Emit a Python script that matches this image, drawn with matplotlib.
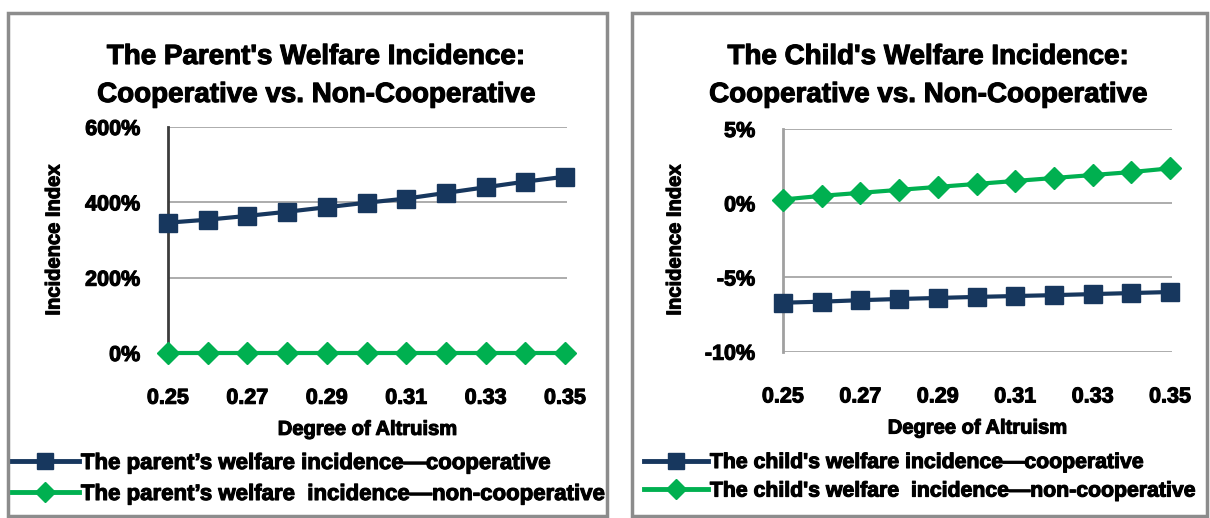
import matplotlib
matplotlib.use("Agg")
import matplotlib.pyplot as plt
import matplotlib.patheffects as pe
from matplotlib.patches import Rectangle
from matplotlib.ticker import FuncFormatter
from matplotlib.lines import Line2D

plt.rcParams['font.family'] = ['Liberation Sans', 'DejaVu Sans']
plt.rcParams['font.weight'] = 'bold'

# degree of altruism on the x axis
altruism = [0.25, 0.26, 0.27, 0.28, 0.29, 0.30, 0.31, 0.32, 0.33, 0.34, 0.35]
xtick_vals = [0.25, 0.27, 0.29, 0.31, 0.33, 0.35]

# incidence index, in percent
parent_coop = [346, 354, 364, 375, 387, 399, 410, 425, 440, 455, 468]
parent_noncoop = [0, 0, 0, 0, 0, 0, 0, 0, 0, 0, 0]
child_coop = [-6.70, -6.63, -6.53, -6.45, -6.38, -6.31, -6.25, -6.19, -6.12, -6.05, -5.98]
child_noncoop = [0.25, 0.50, 0.70, 0.90, 1.10, 1.30, 1.50, 1.70, 1.90, 2.10, 2.35]

parent_titles = ["The Parent's Welfare Incidence:", "Cooperative vs. Non-Cooperative"]
child_titles = ["The Child's Welfare Incidence:", "Cooperative vs. Non-Cooperative"]
parent_labels = ["The parent\u2019s welfare incidence\u2014cooperative",
                 "The parent\u2019s welfare  incidence\u2014non-cooperative"]
child_labels = ["The child's welfare incidence\u2014cooperative",
                "The child's welfare  incidence\u2014non-cooperative"]

NAVY = '#17375e'
GREEN = '#00b050'
GRID = '#a6a6a6'
heavy = [pe.withStroke(linewidth=0.8, foreground='black')]

W, H = 1210, 518
fig = plt.figure(figsize=(W / 100, H / 100), dpi=100)


def fx(px):
    return px / W


def fy(py):
    return 1 - py / H


# chart frames
for x0, x1 in [(8, 607), (632, 1207)]:
    fig.patches.append(Rectangle((fx(x0), fy(516)), fx(x1 - x0), (516 - 13) / H,
                                 transform=fig.transFigure, fill=False,
                                 edgecolor='#8c8c8c', linewidth=2.5))


def draw_panel(rect, coop, noncoop, yticks, ylim, spine_color, titles, labels,
               title_x, ylabel_x, legend_x, legend_size):
    ax = fig.add_axes(rect)
    ax.plot(altruism, coop, color=NAVY, linewidth=3, marker='s', markersize=13,
            clip_on=False, zorder=3)
    ax.plot(altruism, noncoop, color=GREEN, linewidth=3, marker='D', markersize=11,
            clip_on=False, zorder=4)
    ax.set_xlim(0.25, 0.3505)
    ax.set_ylim(*ylim)
    ax.set_yticks(yticks)
    ax.yaxis.set_major_formatter(FuncFormatter(lambda v, p: '%d%%' % v))
    ax.set_xticks(xtick_vals)
    ax.set_xticklabels(['%.2f' % v for v in xtick_vals])
    ax.grid(axis='y', color=GRID, linewidth=1.3)
    ax.set_axisbelow(True)
    for s in ['top', 'right', 'bottom']:
        ax.spines[s].set_visible(False)
    ax.spines['left'].set_color(spine_color)
    ax.spines['left'].set_linewidth(2)
    ax.tick_params(axis='both', length=0, labelsize=15.5)
    ax.tick_params(axis='x', pad=25)
    ax.tick_params(axis='y', pad=20)
    for lbl in ax.get_xticklabels() + ax.get_yticklabels():
        lbl.set_path_effects(heavy)
    ax.set_xlabel('Degree of Altruism', fontsize=14.5, fontweight='bold', labelpad=8,
                  path_effects=heavy)

    fig.text(fx(title_x), fy(57), titles[0], ha='center', va='center',
             fontsize=20, fontweight='bold', path_effects=heavy)
    fig.text(fx(title_x), fy(95), titles[1], ha='center', va='center',
             fontsize=20, fontweight='bold', path_effects=heavy)
    fig.text(fx(ylabel_x), fy(240), 'Incidence Index', rotation=90, ha='center',
             va='center', fontsize=14.5, fontweight='bold', path_effects=heavy)

    handles = [Line2D([], [], color=NAVY, linewidth=3.5, marker='s', markersize=12),
               Line2D([], [], color=GREEN, linewidth=3.5, marker='D', markersize=10)]
    leg = fig.legend(handles, labels, loc='upper left',
                     bbox_to_anchor=(fx(legend_x), fy(453)), frameon=False,
                     fontsize=legend_size, handlelength=3.0, handletextpad=0.1,
                     labelspacing=0.45, borderpad=0, borderaxespad=0)
    for t in leg.get_texts():
        t.set_path_effects(heavy)
    return ax


draw_panel([fx(168), fy(353), fx(567 - 168), (353 - 127) / H],
           parent_coop, parent_noncoop, [0, 200, 400, 600], (0, 600),
           '#3c3c3c', parent_titles, parent_labels, 316, 54, 12, 16)

draw_panel([fx(783), fy(351.7), fx(1172 - 783), (351.7 - 129) / H],
           child_coop, child_noncoop, [-10, -5, 0, 5], (-10, 5),
           '#a0a0a0', child_titles, child_labels, 928, 675, 644, 15.3)

fig.savefig('out.png', dpi=100)
